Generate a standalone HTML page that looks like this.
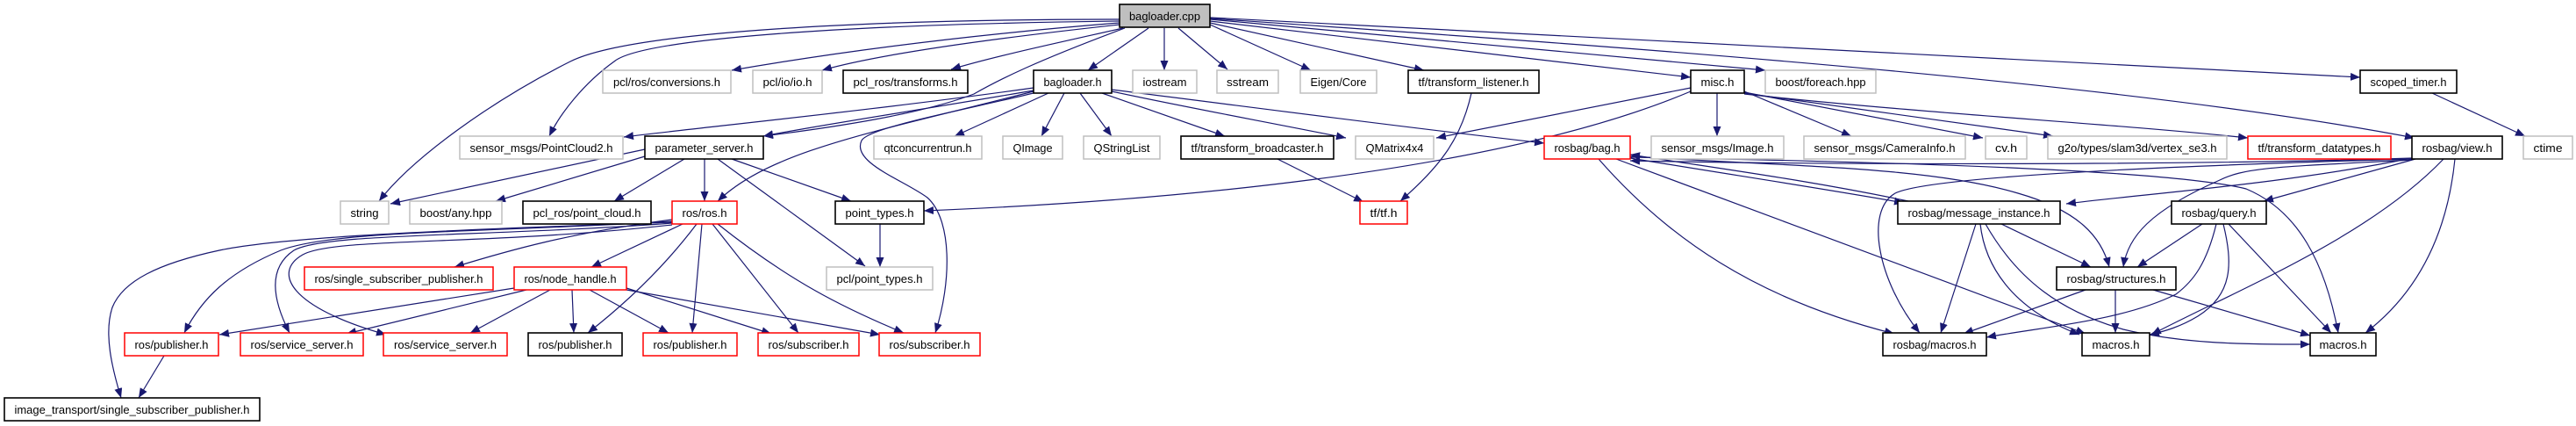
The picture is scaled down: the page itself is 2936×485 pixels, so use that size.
<!DOCTYPE html>
<html><head><meta charset="utf-8"><style>
html,body{margin:0;padding:0;background:#fff;}
svg{display:block;}
text{font-family:"Liberation Sans",sans-serif;font-size:13px;fill:#000;}
.g{fill:#fff;stroke:#bfbfbf;stroke-width:1.5}
.b{fill:#fff;stroke:#000;stroke-width:1.6}
.r{fill:#fff;stroke:#ff0000;stroke-width:1.5}
.e{fill:none;stroke:#191970;stroke-width:1.2;marker-end:url(#a)}
</style></head><body>
<svg width="2936" height="485" viewBox="0 0 2936 485" xmlns="http://www.w3.org/2000/svg">
<defs><marker id="a" markerUnits="userSpaceOnUse" markerWidth="12" markerHeight="10" refX="11" refY="4.5" orient="auto"><path d="M0,0 L11,4.5 L0,9 z" fill="#191970"/></marker></defs>
<g>
<!-- bagloader.cpp edges -->
<path class="e" d="M1276,22 C1000,22 720,35 650,70 C560,115 470,180 432,229"/>
<path class="e" d="M1276,24 C950,28 730,45 700,70 C665,95 638,130 626,155"/>
<path class="e" d="M1276,26 C1100,40 950,60 834,80"/>
<path class="e" d="M1276,28 C1120,45 1000,62 937,80"/>
<path class="e" d="M1280,32 C1200,50 1130,65 1084,79"/>
<path class="e" d="M1282,32 C1180,70 1140,90 1110,107 C1050,130 950,145 870,155"/>
<path class="e" d="M1309,32 L1240,80"/>
<path class="e" d="M1327,32 L1327,80"/>
<path class="e" d="M1343,32 L1399,79"/>
<path class="e" d="M1379,28 L1494,80"/>
<path class="e" d="M1379,26 L1623,80"/>
<path class="e" d="M1379,24 L1927,88"/>
<path class="e" d="M1379,22 L2012,80"/>
<path class="e" d="M1379,20 L2690,88"/>
<path class="e" d="M1379,21 C1800,50 2400,90 2752,157"/>
<!-- bagloader.h -->
<path class="e" d="M1178,100 C1000,125 800,145 711,156"/>
<path class="e" d="M1178,103 C1050,125 930,143 870,155"/>
<path class="e" d="M1178,104 C1000,150 880,170 818,229"/>
<path class="e" d="M1178,106 C1100,125 990,145 982,160 C970,185 1030,205 1057,225 C1085,250 1085,320 1066,379"/>
<path class="e" d="M1195,106 L1088,155"/>
<path class="e" d="M1213,106 L1187,155"/>
<path class="e" d="M1231,106 L1267,155"/>
<path class="e" d="M1256,106 L1396,155"/>
<path class="e" d="M1267,104 C1350,122 1450,140 1534,157"/>
<path class="e" d="M1267,102 C1450,125 1600,145 1760,163"/>
<!-- misc.h -->
<path class="e" d="M1927,100 L1637,157"/>
<path class="e" d="M1927,104 C1700,200 1300,230 1053,240"/>
<path class="e" d="M1957,106 L1957,155"/>
<path class="e" d="M1988,104 L2110,155"/>
<path class="e" d="M1988,105 L2260,157"/>
<path class="e" d="M1988,106 L2340,155"/>
<path class="e" d="M1988,107 C2200,130 2400,140 2562,157"/>
<!-- tf -->
<path class="e" d="M1456,181 L1554,230"/>
<path class="e" d="M1677,106 C1665,160 1640,190 1596,229"/>
<path class="e" d="M2772,106 L2878,155"/>
<!-- parameter_server.h -->
<path class="e" d="M735,170 L445,232"/>
<path class="e" d="M735,178 L565,229"/>
<path class="e" d="M780,181 L700,229"/>
<path class="e" d="M803,181 L803,229"/>
<path class="e" d="M818,181 L986,303"/>
<path class="e" d="M834,181 L970,229"/>
<path class="e" d="M1003,255 L1003,304"/>
<!-- ros/ros.h -->
<path class="e" d="M766,250 C650,265 580,285 518,304"/>
<path class="e" d="M778,255 L674,304"/>
<path class="e" d="M800,255 L789,379"/>
<path class="e" d="M812,255 L910,379"/>
<path class="e" d="M818,255 C900,320 960,350 1030,379"/>
<path class="e" d="M794,255 C760,300 720,340 670,379"/>
<path class="e" d="M766,253 C500,262 320,270 250,285 C180,300 140,320 128,350 C118,380 128,420 138,453"/>
<path class="e" d="M766,252 C550,265 380,262 320,285 C260,310 230,340 210,379"/>
<path class="e" d="M766,254 C550,270 370,265 335,285 C305,305 310,340 330,379"/>
<path class="e" d="M766,256 C550,280 380,270 345,290 C310,310 330,350 440,381"/>
<!-- node_handle -->
<path class="e" d="M586,328 L250,381"/>
<path class="e" d="M600,330 L395,380"/>
<path class="e" d="M627,330 L536,379"/>
<path class="e" d="M652,330 L654,379"/>
<path class="e" d="M672,330 L762,379"/>
<path class="e" d="M714,328 L879,380"/>
<path class="e" d="M714,330 L1003,381"/>
<path class="e" d="M187,405 L158,453"/>
<!-- rosbag -->
<path class="e" d="M1822,181 C1900,270 2000,340 2159,380"/>
<path class="e" d="M1842,181 L2377,380"/>
<path class="e" d="M1858,180 C1980,200 2080,215 2170,231"/>
<path class="e" d="M2175,229 C2060,205 1960,192 1858,176"/>
<path class="e" d="M1858,178 C2050,190 2200,190 2300,220 C2370,240 2395,270 2404,304"/>
<path class="e" d="M1858,179 C2200,185 2480,195 2560,215 C2620,240 2650,300 2665,379"/>
<path class="e" d="M2749,180 C2500,188 2100,188 1858,183"/>
<path class="e" d="M2749,181 C2500,188 2200,200 2160,220 C2125,240 2140,320 2188,379"/>
<path class="e" d="M2749,182 C2600,190 2560,190 2530,205 C2450,240 2425,270 2420,304"/>
<path class="e" d="M2749,180 C2600,210 2450,220 2355,232"/>
<path class="e" d="M2753,181 L2580,229"/>
<path class="e" d="M2785,181 C2700,270 2550,330 2452,381"/>
<path class="e" d="M2798,181 C2790,260 2760,330 2696,379"/>
<path class="e" d="M2252,255 L2212,379"/>
<path class="e" d="M2257,255 C2262,300 2290,350 2370,381"/>
<path class="e" d="M2263,255 C2300,320 2350,355 2420,375 C2490,392 2560,392 2633,392"/>
<path class="e" d="M2281,255 L2383,304"/>
<path class="e" d="M2510,255 L2436,304"/>
<path class="e" d="M2526,255 C2515,300 2500,320 2480,335 C2420,365 2330,372 2264,384"/>
<path class="e" d="M2534,255 C2545,300 2545,335 2505,360 C2485,372 2468,377 2450,381"/>
<path class="e" d="M2540,255 L2657,379"/>
<path class="e" d="M2377,330 L2238,380"/>
<path class="e" d="M2411,330 L2411,379"/>
<path class="e" d="M2454,330 L2633,382"/>
</g>
<g>
<rect x="1276" y="5" width="103" height="26" fill="#bfbfbf" stroke="#000" stroke-width="1.6"/><text x="1327.5" y="23" text-anchor="middle" textLength="81" lengthAdjust="spacingAndGlyphs">bagloader.cpp</text>
<rect class="g" x="687" y="80" width="146" height="26"/><text x="760" y="98" text-anchor="middle" textLength="122" lengthAdjust="spacingAndGlyphs">pcl/ros/conversions.h</text>
<rect class="g" x="858" y="80" width="79" height="26"/><text x="897.5" y="98" text-anchor="middle" textLength="56" lengthAdjust="spacingAndGlyphs">pcl/io/io.h</text>
<rect class="b" x="961" y="80" width="142" height="26"/><text x="1032" y="98" text-anchor="middle" textLength="119" lengthAdjust="spacingAndGlyphs">pcl_ros/transforms.h</text>
<rect class="b" x="1178" y="80" width="89" height="26"/><text x="1222.5" y="98" text-anchor="middle" textLength="66" lengthAdjust="spacingAndGlyphs">bagloader.h</text>
<rect class="g" x="1291" y="80" width="73" height="26"/><text x="1327.5" y="98" text-anchor="middle" textLength="50" lengthAdjust="spacingAndGlyphs">iostream</text>
<rect class="g" x="1387" y="80" width="70" height="26"/><text x="1422" y="98" text-anchor="middle" textLength="48" lengthAdjust="spacingAndGlyphs">sstream</text>
<rect class="g" x="1482" y="80" width="87" height="26"/><text x="1525.5" y="98" text-anchor="middle" textLength="64" lengthAdjust="spacingAndGlyphs">Eigen/Core</text>
<rect class="b" x="1605" y="80" width="149" height="26"/><text x="1679.5" y="98" text-anchor="middle" textLength="126" lengthAdjust="spacingAndGlyphs">tf/transform_listener.h</text>
<rect class="b" x="1927" y="80" width="61" height="26"/><text x="1957.5" y="98" text-anchor="middle" textLength="38" lengthAdjust="spacingAndGlyphs">misc.h</text>
<rect class="g" x="2012" y="80" width="126" height="26"/><text x="2075" y="98" text-anchor="middle" textLength="103" lengthAdjust="spacingAndGlyphs">boost/foreach.hpp</text>
<rect class="b" x="2690" y="80" width="110" height="26"/><text x="2745" y="98" text-anchor="middle" textLength="87" lengthAdjust="spacingAndGlyphs">scoped_timer.h</text>

<rect class="g" x="524" y="155" width="186" height="26"/><text x="617" y="173" text-anchor="middle" textLength="163" lengthAdjust="spacingAndGlyphs">sensor_msgs/PointCloud2.h</text>
<rect class="b" x="735" y="155" width="135" height="26"/><text x="802.5" y="173" text-anchor="middle" textLength="112" lengthAdjust="spacingAndGlyphs">parameter_server.h</text>
<rect class="g" x="996" y="155" width="123" height="26"/><text x="1057.5" y="173" text-anchor="middle" textLength="100" lengthAdjust="spacingAndGlyphs">qtconcurrentrun.h</text>
<rect class="g" x="1143" y="155" width="68" height="26"/><text x="1177" y="173" text-anchor="middle" textLength="45" lengthAdjust="spacingAndGlyphs">QImage</text>
<rect class="g" x="1235" y="155" width="87" height="26"/><text x="1278.5" y="173" text-anchor="middle" textLength="64" lengthAdjust="spacingAndGlyphs">QStringList</text>
<rect class="b" x="1346" y="155" width="174" height="26"/><text x="1433" y="173" text-anchor="middle" textLength="151" lengthAdjust="spacingAndGlyphs">tf/transform_broadcaster.h</text>
<rect class="g" x="1545" y="155" width="89" height="26"/><text x="1589.5" y="173" text-anchor="middle" textLength="66" lengthAdjust="spacingAndGlyphs">QMatrix4x4</text>
<rect class="r" x="1760" y="155" width="98" height="26"/><text x="1809" y="173" text-anchor="middle" textLength="75" lengthAdjust="spacingAndGlyphs">rosbag/bag.h</text>
<rect class="g" x="1882" y="155" width="151" height="26"/><text x="1957.5" y="173" text-anchor="middle" textLength="128" lengthAdjust="spacingAndGlyphs">sensor_msgs/Image.h</text>
<rect class="g" x="2056" y="155" width="184" height="26"/><text x="2148" y="173" text-anchor="middle" textLength="161" lengthAdjust="spacingAndGlyphs">sensor_msgs/CameraInfo.h</text>
<rect class="g" x="2263" y="155" width="47" height="26"/><text x="2286.5" y="173" text-anchor="middle" textLength="25" lengthAdjust="spacingAndGlyphs">cv.h</text>
<rect class="g" x="2334" y="155" width="204" height="26"/><text x="2436" y="173" text-anchor="middle" textLength="181" lengthAdjust="spacingAndGlyphs">g2o/types/slam3d/vertex_se3.h</text>
<rect class="r" x="2562" y="155" width="163" height="26"/><text x="2643.5" y="173" text-anchor="middle" textLength="140" lengthAdjust="spacingAndGlyphs">tf/transform_datatypes.h</text>
<rect class="b" x="2749" y="155" width="103" height="26"/><text x="2800.5" y="173" text-anchor="middle" textLength="80" lengthAdjust="spacingAndGlyphs">rosbag/view.h</text>
<rect class="g" x="2876" y="155" width="56" height="26"/><text x="2904" y="173" text-anchor="middle" textLength="33" lengthAdjust="spacingAndGlyphs">ctime</text>

<rect class="g" x="388" y="229" width="55" height="26"/><text x="415.5" y="247" text-anchor="middle" textLength="32" lengthAdjust="spacingAndGlyphs">string</text>
<rect class="g" x="467" y="229" width="105" height="26"/><text x="519.5" y="247" text-anchor="middle" textLength="82" lengthAdjust="spacingAndGlyphs">boost/any.hpp</text>
<rect class="b" x="596" y="229" width="146" height="26"/><text x="669" y="247" text-anchor="middle" textLength="123" lengthAdjust="spacingAndGlyphs">pcl_ros/point_cloud.h</text>
<rect class="r" x="766" y="229" width="74" height="26"/><text x="803" y="247" text-anchor="middle" textLength="51" lengthAdjust="spacingAndGlyphs">ros/ros.h</text>
<rect class="b" x="952" y="229" width="101" height="26"/><text x="1002.5" y="247" text-anchor="middle" textLength="78" lengthAdjust="spacingAndGlyphs">point_types.h</text>
<rect class="r" x="1550" y="229" width="54" height="26"/><text x="1577" y="247" text-anchor="middle" textLength="31" lengthAdjust="spacingAndGlyphs">tf/tf.h</text>
<rect class="b" x="2163" y="229" width="185" height="26"/><text x="2255.5" y="247" text-anchor="middle" textLength="162" lengthAdjust="spacingAndGlyphs">rosbag/message_instance.h</text>
<rect class="b" x="2475" y="229" width="108" height="26"/><text x="2529" y="247" text-anchor="middle" textLength="85" lengthAdjust="spacingAndGlyphs">rosbag/query.h</text>

<rect class="r" x="347" y="304" width="215" height="26"/><text x="454.5" y="322" text-anchor="middle" textLength="192" lengthAdjust="spacingAndGlyphs">ros/single_subscriber_publisher.h</text>
<rect class="r" x="586" y="304" width="128" height="26"/><text x="650" y="322" text-anchor="middle" textLength="105" lengthAdjust="spacingAndGlyphs">ros/node_handle.h</text>
<rect class="g" x="942" y="304" width="121" height="26"/><text x="1002.5" y="322" text-anchor="middle" textLength="98" lengthAdjust="spacingAndGlyphs">pcl/point_types.h</text>
<rect class="b" x="2344" y="304" width="136" height="26"/><text x="2412" y="322" text-anchor="middle" textLength="113" lengthAdjust="spacingAndGlyphs">rosbag/structures.h</text>

<rect class="r" x="142" y="379" width="107" height="26"/><text x="195.5" y="397" text-anchor="middle" textLength="84" lengthAdjust="spacingAndGlyphs">ros/publisher.h</text>
<rect class="r" x="274" y="379" width="140" height="26"/><text x="344" y="397" text-anchor="middle" textLength="117" lengthAdjust="spacingAndGlyphs">ros/service_server.h</text>
<rect class="r" x="437" y="379" width="141" height="26"/><text x="507.5" y="397" text-anchor="middle" textLength="117" lengthAdjust="spacingAndGlyphs">ros/service_server.h</text>
<rect class="b" x="602" y="379" width="107" height="26"/><text x="655.5" y="397" text-anchor="middle" textLength="84" lengthAdjust="spacingAndGlyphs">ros/publisher.h</text>
<rect class="r" x="733" y="379" width="107" height="26"/><text x="786.5" y="397" text-anchor="middle" textLength="84" lengthAdjust="spacingAndGlyphs">ros/publisher.h</text>
<rect class="r" x="864" y="379" width="115" height="26"/><text x="921.5" y="397" text-anchor="middle" textLength="92" lengthAdjust="spacingAndGlyphs">ros/subscriber.h</text>
<rect class="r" x="1002" y="379" width="115" height="26"/><text x="1059.5" y="397" text-anchor="middle" textLength="92" lengthAdjust="spacingAndGlyphs">ros/subscriber.h</text>
<rect class="b" x="2146" y="379" width="118" height="26"/><text x="2205" y="397" text-anchor="middle" textLength="95" lengthAdjust="spacingAndGlyphs">rosbag/macros.h</text>
<rect class="b" x="2373" y="379" width="77" height="26"/><text x="2411.5" y="397" text-anchor="middle" textLength="54" lengthAdjust="spacingAndGlyphs">macros.h</text>
<rect class="b" x="2633" y="379" width="75" height="26"/><text x="2670.5" y="397" text-anchor="middle" textLength="54" lengthAdjust="spacingAndGlyphs">macros.h</text>

<rect class="b" x="5" y="453" width="291" height="26"/><text x="150.5" y="471" text-anchor="middle" textLength="268" lengthAdjust="spacingAndGlyphs">image_transport/single_subscriber_publisher.h</text>
</g>
</svg>
</body></html>
